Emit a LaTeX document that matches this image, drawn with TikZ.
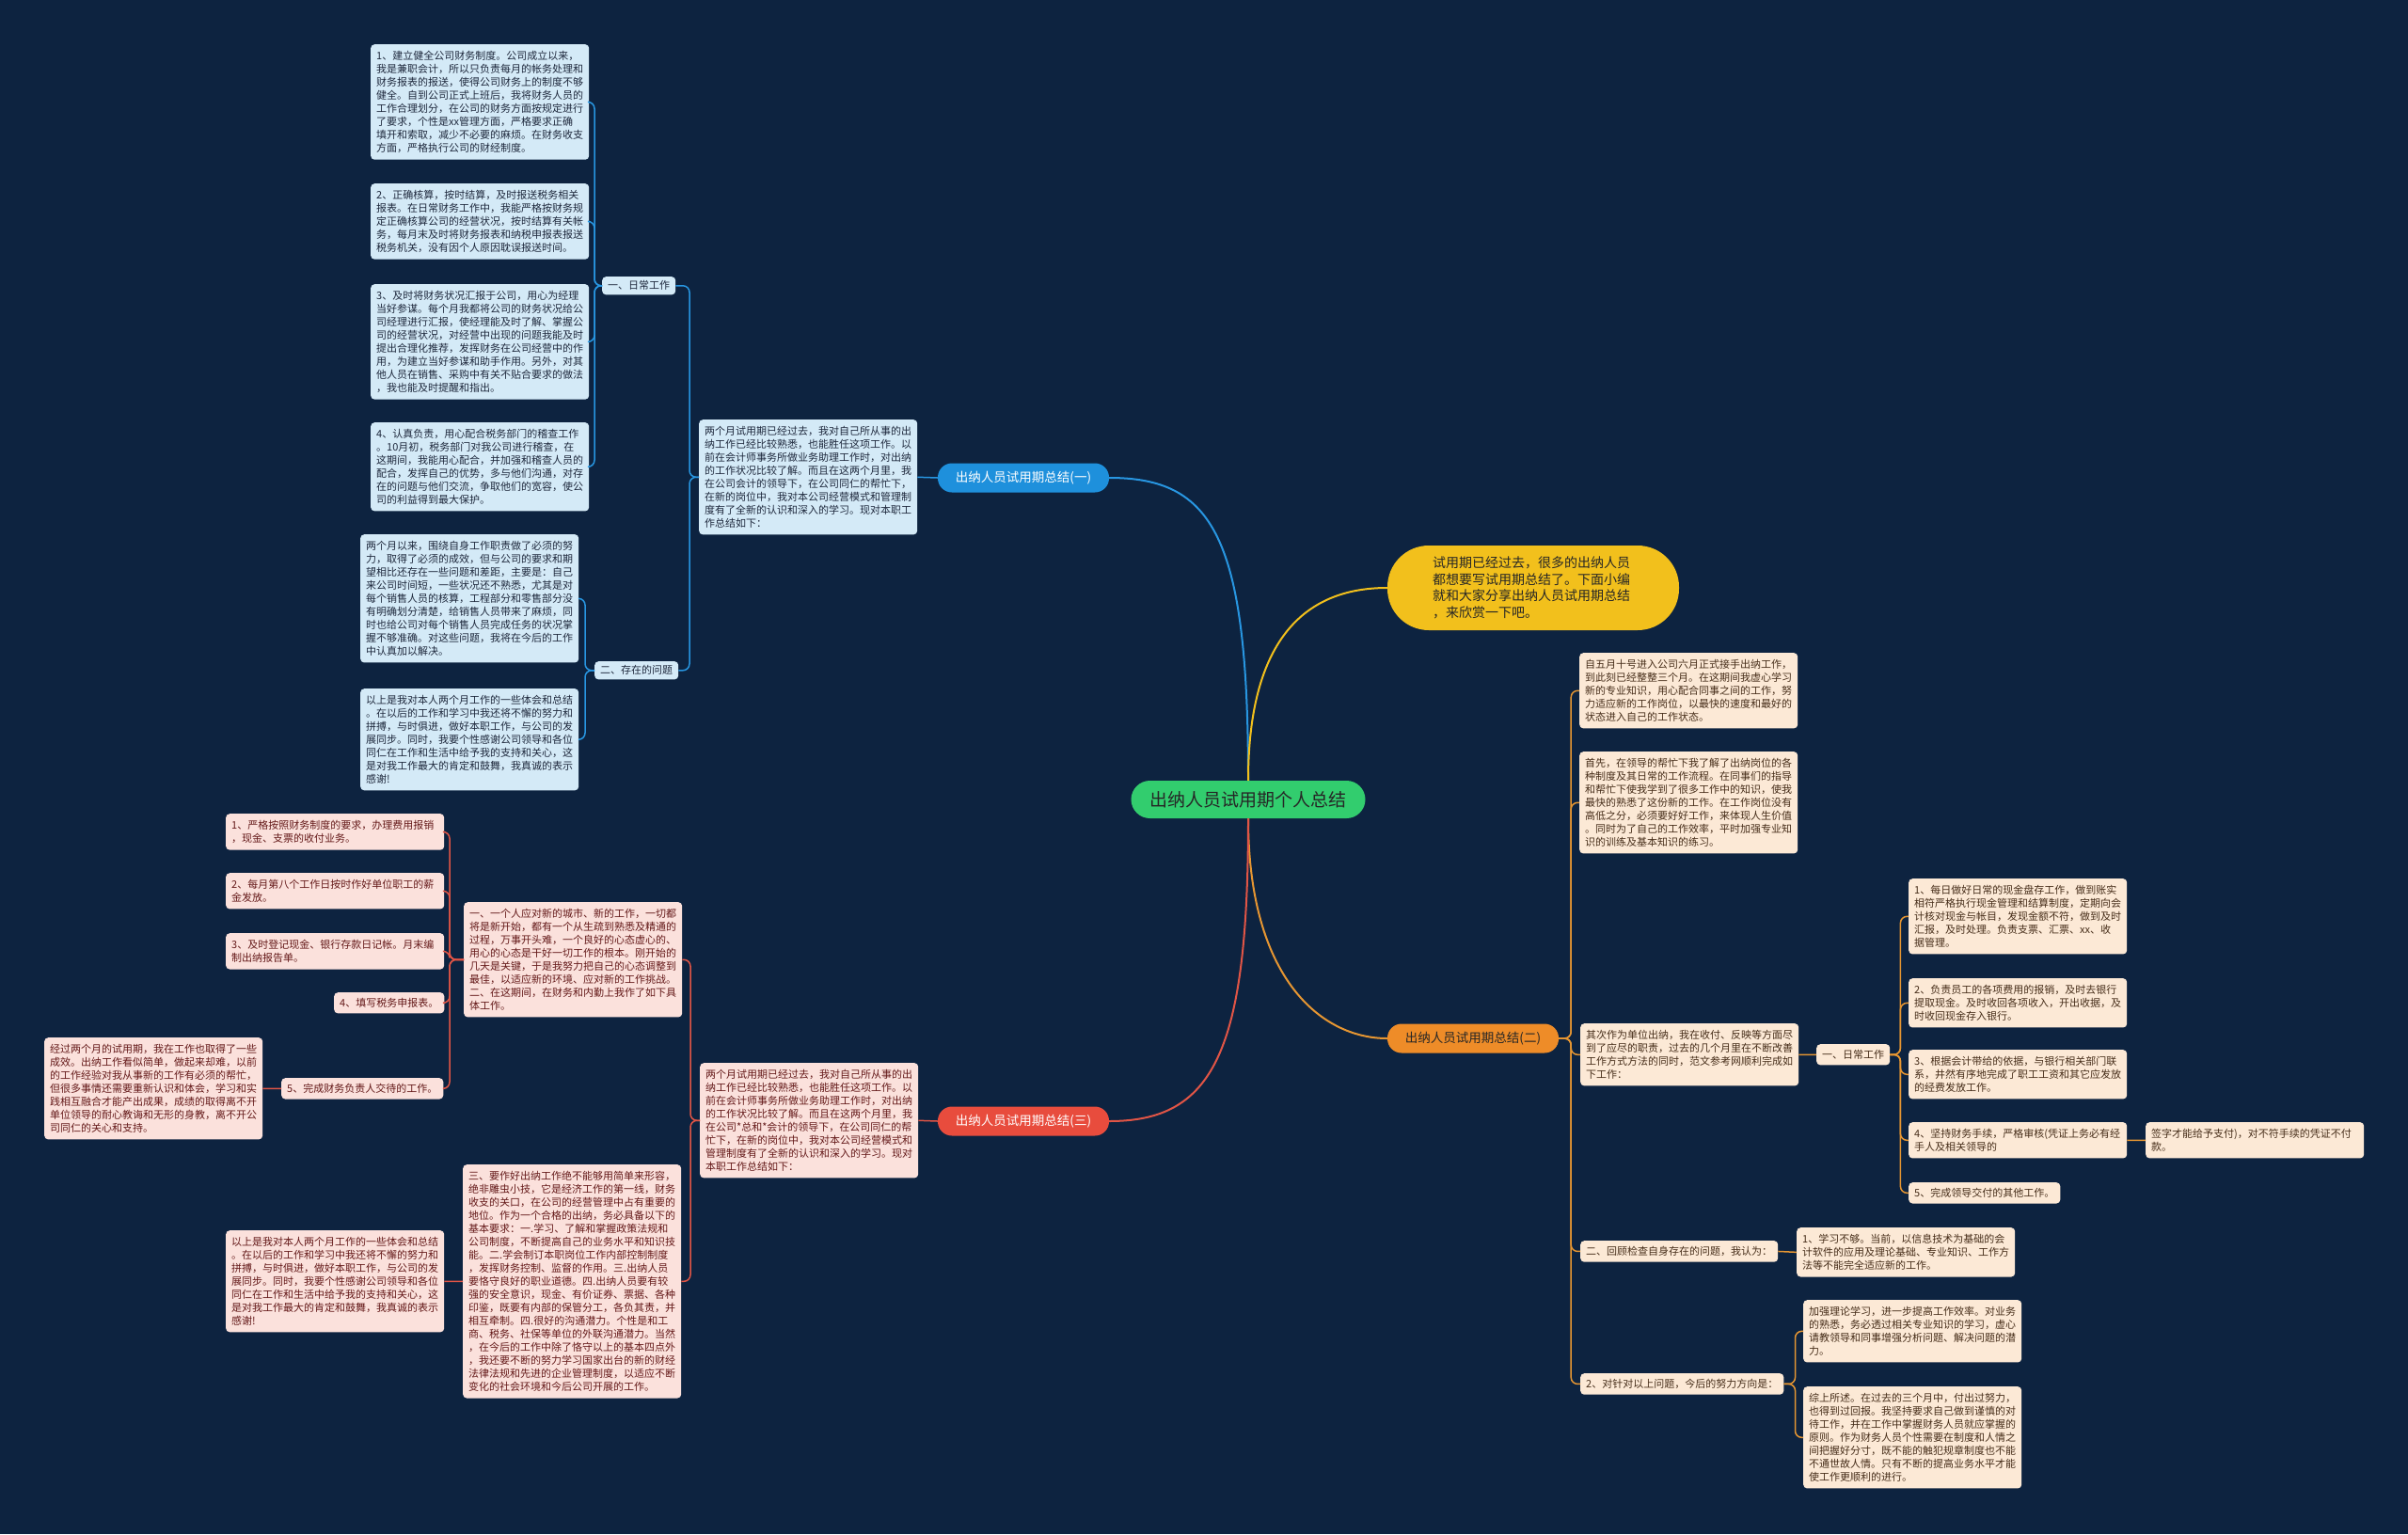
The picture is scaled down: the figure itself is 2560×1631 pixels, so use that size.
\documentclass[tikz,border=0pt]{standalone}
\usepackage{fontspec}
\setmainfont{Noto Sans CJK SC}
\usetikzlibrary{positioning}
\definecolor{bg}{RGB}{13,35,64}
\definecolor{bluebr}{RGB}{30,144,220}
\definecolor{blueline}{RGB}{40,150,225}
\definecolor{bluefill}{RGB}{212,234,247}
\definecolor{bluetext}{RGB}{30,40,60}
\definecolor{redbr}{RGB}{232,76,61}
\definecolor{redline}{RGB}{225,85,70}
\definecolor{redfill}{RGB}{251,225,220}
\definecolor{redtext}{RGB}{100,25,25}
\definecolor{orangebr}{RGB}{238,140,40}
\definecolor{orangeline}{RGB}{230,150,50}
\definecolor{orangefill}{RGB}{252,233,214}
\definecolor{orangetext}{RGB}{70,45,25}
\definecolor{yellowfill}{RGB}{242,192,28}
\definecolor{greenfill}{RGB}{50,205,110}
\newcommand{\leaffont}{\fontsize{11}{14}\selectfont}
\tikzset{
  leaf/.style={rounded corners=4pt, inner xsep=6pt, inner ysep=7pt, align=left,
    anchor=north west, font=\leaffont, text width=220pt},
  tag/.style={rounded corners=4pt, inner xsep=6pt, inner ysep=6pt,
    anchor=north west, font=\leaffont},
  bleaf/.style={leaf, fill=bluefill, text=bluetext},
  btag/.style={tag, inner ysep=4.5pt, fill=bluefill, text=bluetext},
  rleaf/.style={leaf, fill=redfill, text=redtext},
  rtag/.style={tag, fill=redfill, text=redtext},
  oleaf/.style={leaf, fill=orangefill, text=orangetext},
  otag/.style={tag, fill=orangefill, text=orangetext},
  branch/.style={rounded corners=15pt, minimum height=31pt, minimum width=182pt,
    inner sep=0pt, font=\fontsize{13.5}{16}\selectfont},
  root/.style={fill=greenfill, text=black!85, rounded corners=20pt, minimum height=40pt,
    minimum width=249pt, inner sep=0pt, font=\fontsize{19}{22}\selectfont},
  intro/.style={fill=yellowfill, text=black!85, rounded corners=44pt, minimum height=90pt,
    text width=214pt, inner xsep=48pt, align=left, font=\fontsize{14}{17.5}\selectfont},
  bmain/.style={draw=blueline, line width=2pt},
  rmain/.style={draw=redline, line width=2pt},
  omain/.style={draw=orangeline, line width=2pt},
  ymain/.style={draw=yellowfill, line width=2pt},
  blink/.style={draw=blueline, line width=1.5pt, rounded corners=7pt},
  rlink/.style={draw=redline, line width=1.5pt, rounded corners=7pt},
  olink/.style={draw=orangeline, line width=1.5pt, rounded corners=7pt}
}

\begin{document}
\begin{tikzpicture}[x=1pt, y=-1pt]
  \fill[bg] (0,0) rectangle (2560,1631);
  \useasboundingbox (0,0) rectangle (2560,1631);
  %%
  \node[root] (root) at (1327,850) {出纳人员试用期个人总结};
  \node[intro] (intro) at (1630,625) {试用期已经过去，很多的出纳人员\\都想要写试用期总结了。下面小编\\就和大家分享出纳人员试用期总结\\，来欣赏一下吧。};
  \node[branch, fill=bluebr, text=white] (bbr) at (1088,508) {出纳人员试用期总结(一)};
  \node[branch, fill=orangebr, text=black!85] (obr) at (1566,1104) {出纳人员试用期总结(二)};
  \node[branch, fill=redbr, text=white] (rbr) at (1088,1192) {出纳人员试用期总结(三)};
  %%
  \draw[bmain] (root.north) .. controls +(0,-260) and +(110,0) .. (bbr.east);
  \draw[ymain] (root.north) .. controls +(0,-170) and +(-70,0) .. (intro.west);
  \draw[omain] (root.south) .. controls +(0,170) and +(-70,0) .. (obr.west);
  \draw[rmain] (root.south) .. controls +(0,250) and +(110,0) .. (rbr.east);
  %% branch one
  \node[bleaf] (bintro) at (743,446) {两个月试用期已经过去，我对自己所从事的出\\纳工作已经比较熟悉，也能胜任这项工作。以\\前在会计师事务所做业务助理工作时，对出纳\\的工作状况比较了解。而且在这两个月里，我\\在公司会计的领导下，在公司同仁的帮忙下，\\在新的岗位中，我对本公司经营模式和管理制\\度有了全新的认识和深入的学习。现对本职工\\作总结如下：};
  \node[btag] (blab1) at (640,294) {一、日常工作};
  \node[btag] (blab2) at (632,703) {二、存在的问题};
  \node[bleaf] (b1) at (394,47) {1、建立健全公司财务制度。公司成立以来，\\我是兼职会计，所以只负责每月的帐务处理和\\财务报表的报送，使得公司财务上的制度不够\\健全。自到公司正式上班后，我将财务人员的\\工作合理划分，在公司的财务方面按规定进行\\了要求，个性是xx管理方面，严格要求正确\\填开和索取，减少不必要的麻烦。在财务收支\\方面，严格执行公司的财经制度。};
  \node[bleaf] (b2) at (394,195) {2、正确核算，按时结算，及时报送税务相关\\报表。在日常财务工作中，我能严格按财务规\\定正确核算公司的经营状况，按时结算有关帐\\务，每月末及时将财务报表和纳税申报表报送\\税务机关，没有因个人原因耽误报送时间。};
  \node[bleaf] (b3) at (394,302) {3、及时将财务状况汇报于公司，用心为经理\\当好参谋。每个月我都将公司的财务状况给公\\司经理进行汇报，使经理能及时了解、掌握公\\司的经营状况，对经营中出现的问题我能及时\\提出合理化推荐，发挥财务在公司经营中的作\\用，为建立当好参谋和助手作用。另外，对其\\他人员在销售、采购中有关不贴合要求的做法\\，我也能及时提醒和指出。};
  \node[bleaf] (b4) at (394,449) {4、认真负责，用心配合税务部门的稽查工作\\。10月初，税务部门对我公司进行稽查，在\\这期间，我能用心配合，并加强和稽查人员的\\配合，发挥自己的优势，多与他们沟通，对存\\在的问题与他们交流，争取他们的宽容，使公\\司的利益得到最大保护。};
  \node[bleaf] (b5) at (383,568) {两个月以来，围绕自身工作职责做了必须的努\\力，取得了必须的成效，但与公司的要求和期\\望相比还存在一些问题和差距，主要是：自己\\来公司时间短，一些状况还不熟悉，尤其是对\\每个销售人员的核算，工程部分和零售部分没\\有明确划分清楚，给销售人员带来了麻烦，同\\时也给公司对每个销售人员完成任务的状况掌\\握不够准确。对这些问题，我将在今后的工作\\中认真加以解决。};
  \node[bleaf] (b6) at (383,732) {以上是我对本人两个月工作的一些体会和总结\\。在以后的工作和学习中我还将不懈的努力和\\拼搏，与时俱进，做好本职工作，与公司的发\\展同步。同时，我要个性感谢公司领导和各位\\同仁在工作和生活中给予我的支持和关心，这\\是对我工作最大的肯定和鼓舞，我真诚的表示\\感谢!};
  %%
  \draw[blink] (bbr.west) -- (bintro.east);
  \draw[blink] (bintro.west) -- ++(-10,0) |- (blab1.east);
  \draw[blink] (bintro.west) -- ++(-10,0) |- (blab2.east);
  \draw[blink] (blab1.west) -- ++(-8,0) |- (b1.east);
  \draw[blink] (blab1.west) -- ++(-8,0) |- (b2.east);
  \draw[blink] (blab1.west) -- ++(-8,0) |- (b3.east);
  \draw[blink] (blab1.west) -- ++(-8,0) |- (b4.east);
  \draw[blink] (blab2.west) -- ++(-10,0) |- (b5.east);
  \draw[blink] (blab2.west) -- ++(-10,0) |- (b6.east);
  %% branch three
  \node[rleaf] (rintro) at (744,1130) {两个月试用期已经过去，我对自己所从事的出\\纳工作已经比较熟悉，也能胜任这项工作。以\\前在会计师事务所做业务助理工作时，对出纳\\的工作状况比较了解。而且在这两个月里，我\\在公司*总和*会计的领导下，在公司同仁的帮\\忙下，在新的岗位中，我对本公司经营模式和\\管理制度有了全新的认识和深入的学习。现对\\本职工作总结如下：};
  \node[rleaf] (ra) at (493,959) {一、一个人应对新的城市、新的工作，一切都\\将是新开始，都有一个从生疏到熟悉及精通的\\过程，万事开头难，一个良好的心态虚心的、\\用心的心态是干好一切工作的根本。刚开始的\\几天是关键，于是我努力把自己的心态调整到\\最佳，以适应新的环境、应对新的工作挑战。\\二、在这期间，在财务和内勤上我作了如下具\\体工作。};
  \node[rleaf] (rb) at (492,1238) {三、要作好出纳工作绝不能够用简单来形容，\\绝非雕虫小技，它是经济工作的第一线，财务\\收支的关口，在公司的经营管理中占有重要的\\地位。作为一个合格的出纳，务必具备以下的\\基本要求：一.学习、了解和掌握政策法规和\\公司制度，不断提高自己的业务水平和知识技\\能。二.学会制订本职岗位工作内部控制制度\\，发挥财务控制、监督的作用。三.出纳人员\\要恪守良好的职业道德。四.出纳人员要有较\\强的安全意识，现金、有价证券、票据、各种\\印鉴，既要有内部的保管分工，各负其责，并\\相互牵制。四.很好的沟通潜力。个性是和工\\商、税务、社保等单位的外联沟通潜力。当然\\，在今后的工作中除了恪守以上的基本四点外\\，我还要不断的努力学习国家出台的新的财经\\法律法规和先进的企业管理制度，以适应不断\\变化的社会环境和今后公司开展的工作。};
  \node[rleaf] (r1) at (240,865) {1、严格按照财务制度的要求，办理费用报销\\，现金、支票的收付业务。};
  \node[rleaf] (r2) at (240,928) {2、每月第八个工作日按时作好单位职工的薪\\金发放。};
  \node[rleaf] (r3) at (240,992) {3、及时登记现金、银行存款日记帐。月末编\\制出纳报告单。};
  \node[rtag] (r4) at (355,1055) {4、填写税务申报表。};
  \node[rtag] (r5) at (299,1146) {5、完成财务负责人交待的工作。};
  \node[rleaf] (rbig) at (47,1103) {经过两个月的试用期，我在工作也取得了一些\\成效。出纳工作看似简单，做起来却难，以前\\的工作经验对我从事新的工作有必须的帮忙，\\但很多事情还需要重新认识和体会，学习和实\\践相互融合才能产出成果，成绩的取得离不开\\单位领导的耐心教诲和无形的身教，离不开公\\司同仁的关心和支持。};
  \node[rleaf] (rfin) at (240,1308) {以上是我对本人两个月工作的一些体会和总结\\。在以后的工作和学习中我还将不懈的努力和\\拼搏，与时俱进，做好本职工作，与公司的发\\展同步。同时，我要个性感谢公司领导和各位\\同仁在工作和生活中给予我的支持和关心，这\\是对我工作最大的肯定和鼓舞，我真诚的表示\\感谢!};
  %%
  \draw[rlink] (rbr.west) -- (rintro.east);
  \draw[rlink] (rintro.west) -- ++(-10,0) |- (ra.east);
  \draw[rlink] (rintro.west) -- ++(-10,0) |- (rb.east);
  \draw[rlink] (ra.west) -- ++(-15,0) |- (r1.east);
  \draw[rlink] (ra.west) -- ++(-15,0) |- (r2.east);
  \draw[rlink] (ra.west) -- ++(-15,0) |- (r3.east);
  \draw[rlink] (ra.west) -- ++(-15,0) |- (r4.east);
  \draw[rlink] (ra.west) -- ++(-15,0) |- (r5.east);
  \draw[rlink] (r5.west) -- (rbig.east);
  \draw[rlink] (rb.west) -- (rfin.east);
  %% branch two
  \node[oleaf] (o1) at (1679,694) {自五月十号进入公司六月正式接手出纳工作，\\到此刻已经整整三个月。在这期间我虚心学习\\新的专业知识，用心配合同事之间的工作，努\\力适应新的工作岗位，以最快的速度和最好的\\状态进入自己的工作状态。};
  \node[oleaf] (o2) at (1679,799) {首先，在领导的帮忙下我了解了出纳岗位的各\\种制度及其日常的工作流程。在同事们的指导\\和帮忙下使我学到了很多工作中的知识，使我\\最快的熟悉了这份新的工作。在工作岗位没有\\高低之分，必须要好好工作，来体现人生价值\\。同时为了自己的工作效率，平时加强专业知\\识的训练及基本知识的练习。};
  \node[oleaf] (o3) at (1680,1088) {其次作为单位出纳，我在收付、反映等方面尽\\到了应尽的职责，过去的几个月里在不断改善\\工作方式方法的同时，范文参考网顺利完成如\\下工作：};
  \node[otag] (o4) at (1680,1319) {二、回顾检查自身存在的问题，我认为：};
  \node[otag] (o5) at (1680,1460) {2、对针对以上问题，今后的努力方向是：};
  \node[otag] (olab) at (1931,1110) {一、日常工作};
  \node[oleaf] (ol1) at (2029,934) {1、每日做好日常的现金盘存工作，做到账实\\相符严格执行现金管理和结算制度，定期向会\\计核对现金与帐目，发现金额不符，做到及时\\汇报，及时处理。负责支票、汇票、xx、收\\据管理。};
  \node[oleaf] (ol2) at (2029,1040) {2、负责员工的各项费用的报销，及时去银行\\提取现金。及时收回各项收入，开出收据，及\\时收回现金存入银行。};
  \node[oleaf] (ol3) at (2029,1116) {3、根据会计带给的依据，与银行相关部门联\\系，井然有序地完成了职工工资和其它应发放\\的经费发放工作。};
  \node[oleaf] (ol4) at (2029,1193) {4、坚持财务手续，严格审核(凭证上务必有经\\手人及相关领导的};
  \node[oleaf] (ol4b) at (2281,1193) {签字才能给予支付)，对不符手续的凭证不付\\款。};
  \node[otag] (ol5) at (2029,1257) {5、完成领导交付的其他工作。};
  \node[oleaf] (o4b) at (1910,1305) {1、学习不够。当前，以信息技术为基础的会\\计软件的应用及理论基础、专业知识、工作方\\法等不能完全适应新的工作。};
  \node[oleaf] (o5a) at (1917,1382) {加强理论学习，进一步提高工作效率。对业务\\的熟悉，务必透过相关专业知识的学习，虚心\\请教领导和同事增强分析问题、解决问题的潜\\力。};
  \node[oleaf] (o5b) at (1917,1474) {综上所述。在过去的三个月中，付出过努力，\\也得到过回报。我坚持要求自己做到谨慎的对\\待工作，并在工作中掌握财务人员就应掌握的\\原则。作为财务人员个性需要在制度和人情之\\间把握好分寸，既不能的触犯规章制度也不能\\不通世故人情。只有不断的提高业务水平才能\\使工作更顺利的进行。};
  %%
  \draw[olink] (obr.east) -- ++(13,0) |- (o1.west);
  \draw[olink] (obr.east) -- ++(13,0) |- (o2.west);
  \draw[olink] (obr.east) -- ++(13,0) |- (o3.west);
  \draw[olink] (obr.east) -- ++(13,0) |- (o4.west);
  \draw[olink] (obr.east) -- ++(13,0) |- (o5.west);
  \draw[olink] (o3.east) -- (olab.west);
  \draw[olink] (olab.east) -- ++(11,0) |- (ol1.west);
  \draw[olink] (olab.east) -- ++(11,0) |- (ol2.west);
  \draw[olink] (olab.east) -- ++(11,0) |- (ol3.west);
  \draw[olink] (olab.east) -- ++(11,0) |- (ol4.west);
  \draw[olink] (olab.east) -- ++(11,0) |- (ol5.west);
  \draw[olink] (ol4.east) -- (ol4b.west);
  \draw[olink] (o4.east) -- (o4b.west);
  \draw[olink] (o5.east) -- ++(12,0) |- (o5a.west);
  \draw[olink] (o5.east) -- ++(12,0) |- (o5b.west);
\end{tikzpicture}
\end{document}
